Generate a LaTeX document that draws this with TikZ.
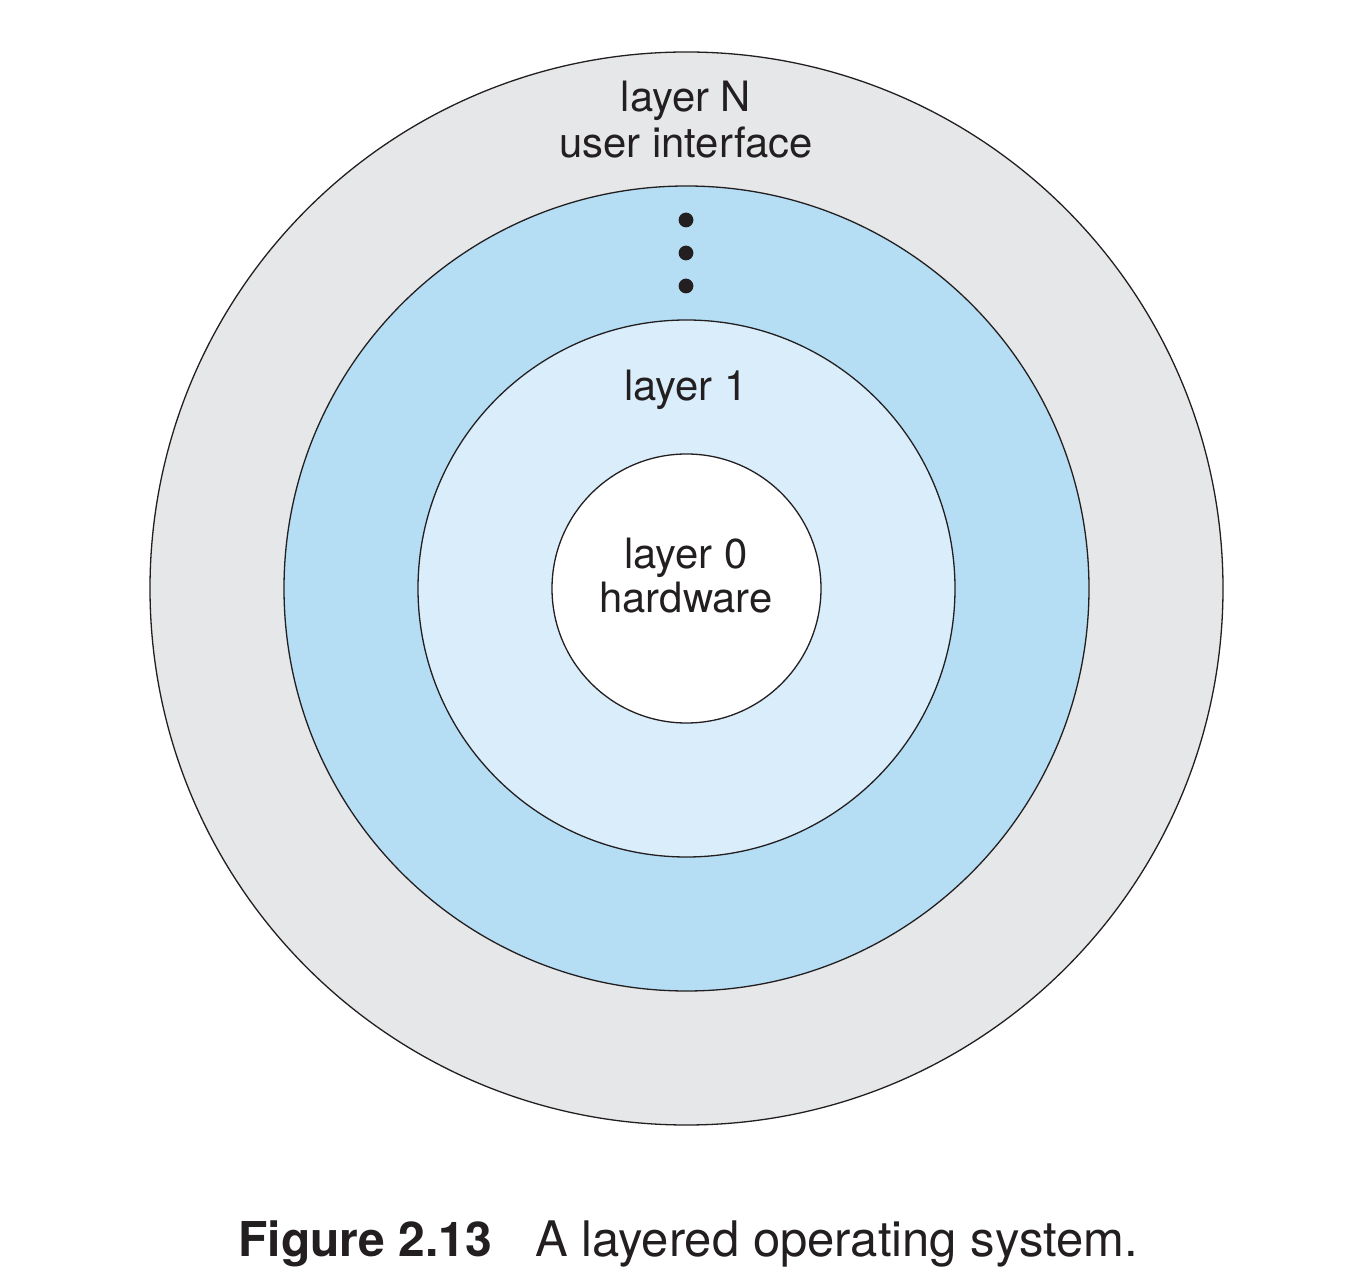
\documentclass[tikz,border=0pt]{standalone}
\usepackage{fontspec}
\setmainfont{TeX Gyre Heros}
\definecolor{ringgray}{HTML}{E6E7E8}
\definecolor{ringblue}{HTML}{B5DEF5}
\definecolor{ringlight}{HTML}{DAEDFA}
\definecolor{inkdark}{HTML}{231F20}
\tikzset{
  ring/.style={draw=inkdark,line width=0.65pt},
  lbl/.style={anchor=base,inner sep=0pt,text=inkdark,font=\fontsize{20.9pt}{23pt}\selectfont},
  captext/.style={anchor=base west,inner sep=0pt,text=inkdark,font=\fontsize{24.5pt}{28pt}\selectfont},
  dotmark/.style={fill=inkdark,draw=none}
}
\begin{document}
\begin{tikzpicture}[x=0.5pt,y=-0.5pt]
\useasboundingbox[fill=white] (0,0) rectangle (1346,1288);
\coordinate (c) at (686.5,588.5);
\fill[ringgray,ring] (c) circle[radius=268.25pt];
\fill[ringblue,ring] (c) circle[radius=201.25pt];
\fill[ringlight,ring] (c) circle[radius=134.25pt];
\fill[white,ring] (c) circle[radius=67.25pt];
\fill[dotmark] (686,220) circle[radius=3.7pt];
\fill[dotmark] (686,253) circle[radius=3.7pt];
\fill[dotmark] (686,286) circle[radius=3.7pt];
\node[lbl] (lN) at (686,112) {layer N};
\node[lbl] (ui) at (686,158) {user interface};
\node[lbl] (l1) at (686,401) {layer 1};
\node[lbl] (l0) at (686,569) {layer 0};
\node[lbl] (hw) at (686,613) {hardware};
\node[captext,font=\fontsize{24pt}{28pt}\selectfont\bfseries] (fig) at (238,1256) {Figure 2.13};
\node[captext] (title) at (535,1256) {A layered operating system.};
\end{tikzpicture}
\end{document}
